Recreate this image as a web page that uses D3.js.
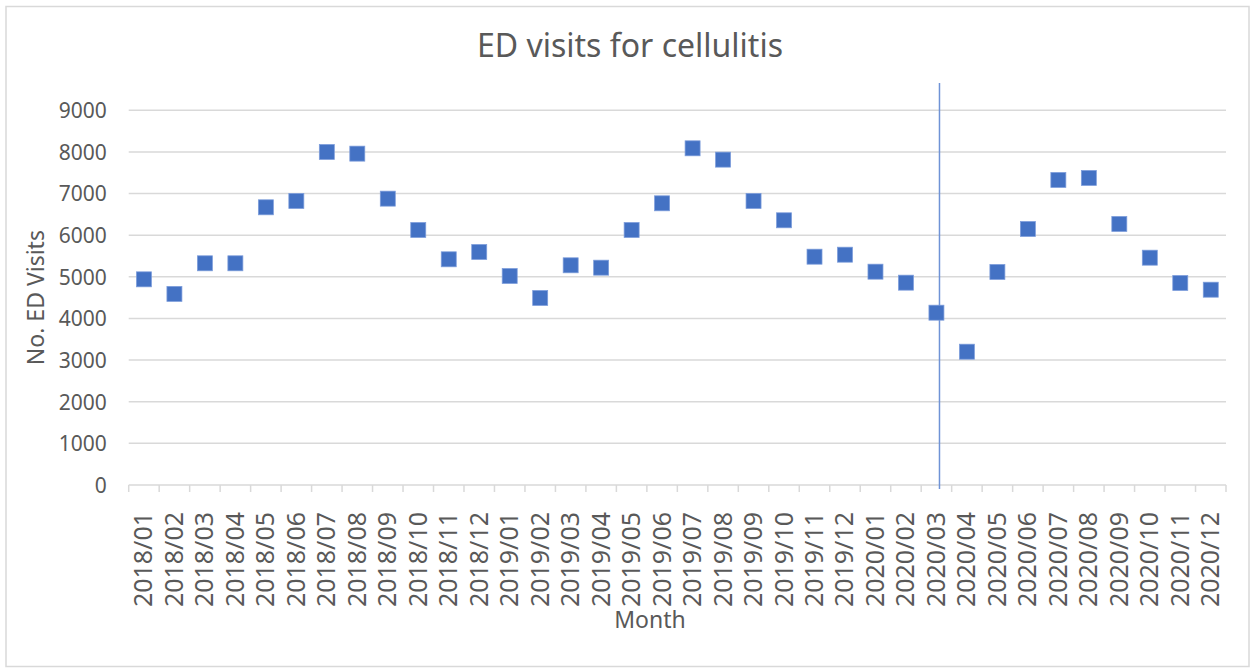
<!DOCTYPE html>
<html>
<head>
<meta charset="utf-8">
<script src="https://cdn.jsdelivr.net/npm/d3@7"></script>
<style>
  html, body { margin: 0; padding: 0; background: #fff; }
  svg { display: block; }
  svg text { font-family: "Noto Sans", "Open Sans", sans-serif; }
</style>
</head>
<body>
<svg id="chart" width="1251" height="670"></svg>
<script>
// Monthly emergency department visits for cellulitis, 2018–2020
const months = [
  "2018/01","2018/02","2018/03","2018/04","2018/05","2018/06",
  "2018/07","2018/08","2018/09","2018/10","2018/11","2018/12",
  "2019/01","2019/02","2019/03","2019/04","2019/05","2019/06",
  "2019/07","2019/08","2019/09","2019/10","2019/11","2019/12",
  "2020/01","2020/02","2020/03","2020/04","2020/05","2020/06",
  "2020/07","2020/08","2020/09","2020/10","2020/11","2020/12"
];
const visits = [
  4940, 4590, 5325, 5325, 6670, 6822, 7999, 7959, 6878, 6125, 5421, 5597,
  5020, 4492, 5277, 5220, 6125, 6766, 8087, 7815, 6822, 6358, 5484, 5532,
  5124, 4860, 4139, 3202, 5117, 6149, 7327, 7375, 6270, 5460, 4852, 4691
];
const yTicks = [0, 1000, 2000, 3000, 4000, 5000, 6000, 7000, 8000, 9000];
// Reference line marking March 2020 (position in category units along the axis)
const markerMonthPos = 26.6;

const svg = d3.select("#chart");
const plot = { left: 128.7, right: 1226, top: 110.3, bottom: 485 };
const textColor = "#595959";
const gridColor = "#d9d9d9";

// Chart area border
svg.append("rect")
  .attr("x", 6).attr("y", 6.5)
  .attr("width", 1243).attr("height", 660)
  .attr("fill", "#fff")
  .attr("stroke", gridColor).attr("stroke-width", 1.5);

const x = d3.scaleBand().domain(months).range([plot.left, plot.right]).padding(0);
const xPos = d3.scaleLinear().domain([0, months.length]).range([plot.left, plot.right]);
const y = d3.scaleLinear().domain([0, 9000]).range([plot.bottom, plot.top]);

// Horizontal gridlines
svg.append("g")
  .selectAll("line")
  .data(yTicks.filter(d => d > 0))
  .join("line")
  .attr("x1", plot.left).attr("x2", plot.right)
  .attr("y1", d => y(d)).attr("y2", d => y(d))
  .attr("stroke", gridColor).attr("stroke-width", 1.5);

// Y axis labels
const yAxis = svg.append("g")
  .attr("transform", `translate(${plot.left},0)`)
  .call(d3.axisLeft(y).tickValues(yTicks).tickFormat(d3.format("d")).tickSize(0).tickPadding(22));
yAxis.attr("font-family", null).attr("font-size", null);
yAxis.select(".domain").remove();
yAxis.selectAll("text")
  .attr("fill", textColor)
  .attr("dy", "0.35em")
  .style("font-size", "21px");

// X axis with ticks at category boundaries
const xAxis = svg.append("g")
  .attr("transform", `translate(0,${plot.bottom})`);
xAxis.append("line")
  .attr("x1", plot.left).attr("x2", plot.right)
  .attr("stroke", gridColor).attr("stroke-width", 1.5);
xAxis.selectAll("line.tick")
  .data(d3.range(months.length + 1))
  .join("line")
  .attr("class", "tick")
  .attr("x1", d => xPos(d)).attr("x2", d => xPos(d))
  .attr("y1", 0).attr("y2", 7)
  .attr("stroke", gridColor).attr("stroke-width", 1.5);
xAxis.selectAll("text")
  .data(months)
  .join("text")
  .attr("transform", d => `translate(${x(d) + x.bandwidth() / 2 + 8.5},27) rotate(-90)`)
  .attr("text-anchor", "end")
  .attr("fill", textColor)
  .style("font-size", "25px")
  .text(d => d);

// Vertical reference line
svg.append("line")
  .attr("x1", xPos(markerMonthPos)).attr("x2", xPos(markerMonthPos))
  .attr("y1", 83).attr("y2", 489)
  .attr("stroke", "#6f93d6").attr("stroke-width", 1.5);

// Square markers
const size = 15;
svg.append("g")
  .selectAll("rect")
  .data(months.map((m, i) => ({ m, v: visits[i] })))
  .join("rect")
  .attr("x", d => x(d.m) + x.bandwidth() / 2 - size / 2)
  .attr("y", d => y(d.v) - size / 2)
  .attr("width", size).attr("height", size)
  .attr("fill", "#4472c4")
  .attr("stroke", "#7d9ddb").attr("stroke-width", 0.75);

// Title
svg.append("text")
  .attr("x", 630).attr("y", 57)
  .attr("text-anchor", "middle")
  .attr("fill", textColor)
  .style("font-size", "32px")
  .text("ED visits for cellulitis");

// Axis titles
svg.append("text")
  .attr("transform", `translate(44,${(plot.top + plot.bottom) / 2}) rotate(-90)`)
  .attr("text-anchor", "middle")
  .attr("fill", textColor)
  .style("font-size", "23px")
  .text("No. ED Visits");

svg.append("text")
  .attr("x", 650).attr("y", 628)
  .attr("text-anchor", "middle")
  .attr("fill", textColor)
  .style("font-size", "23px")
  .text("Month");
</script>
</body>
</html>
